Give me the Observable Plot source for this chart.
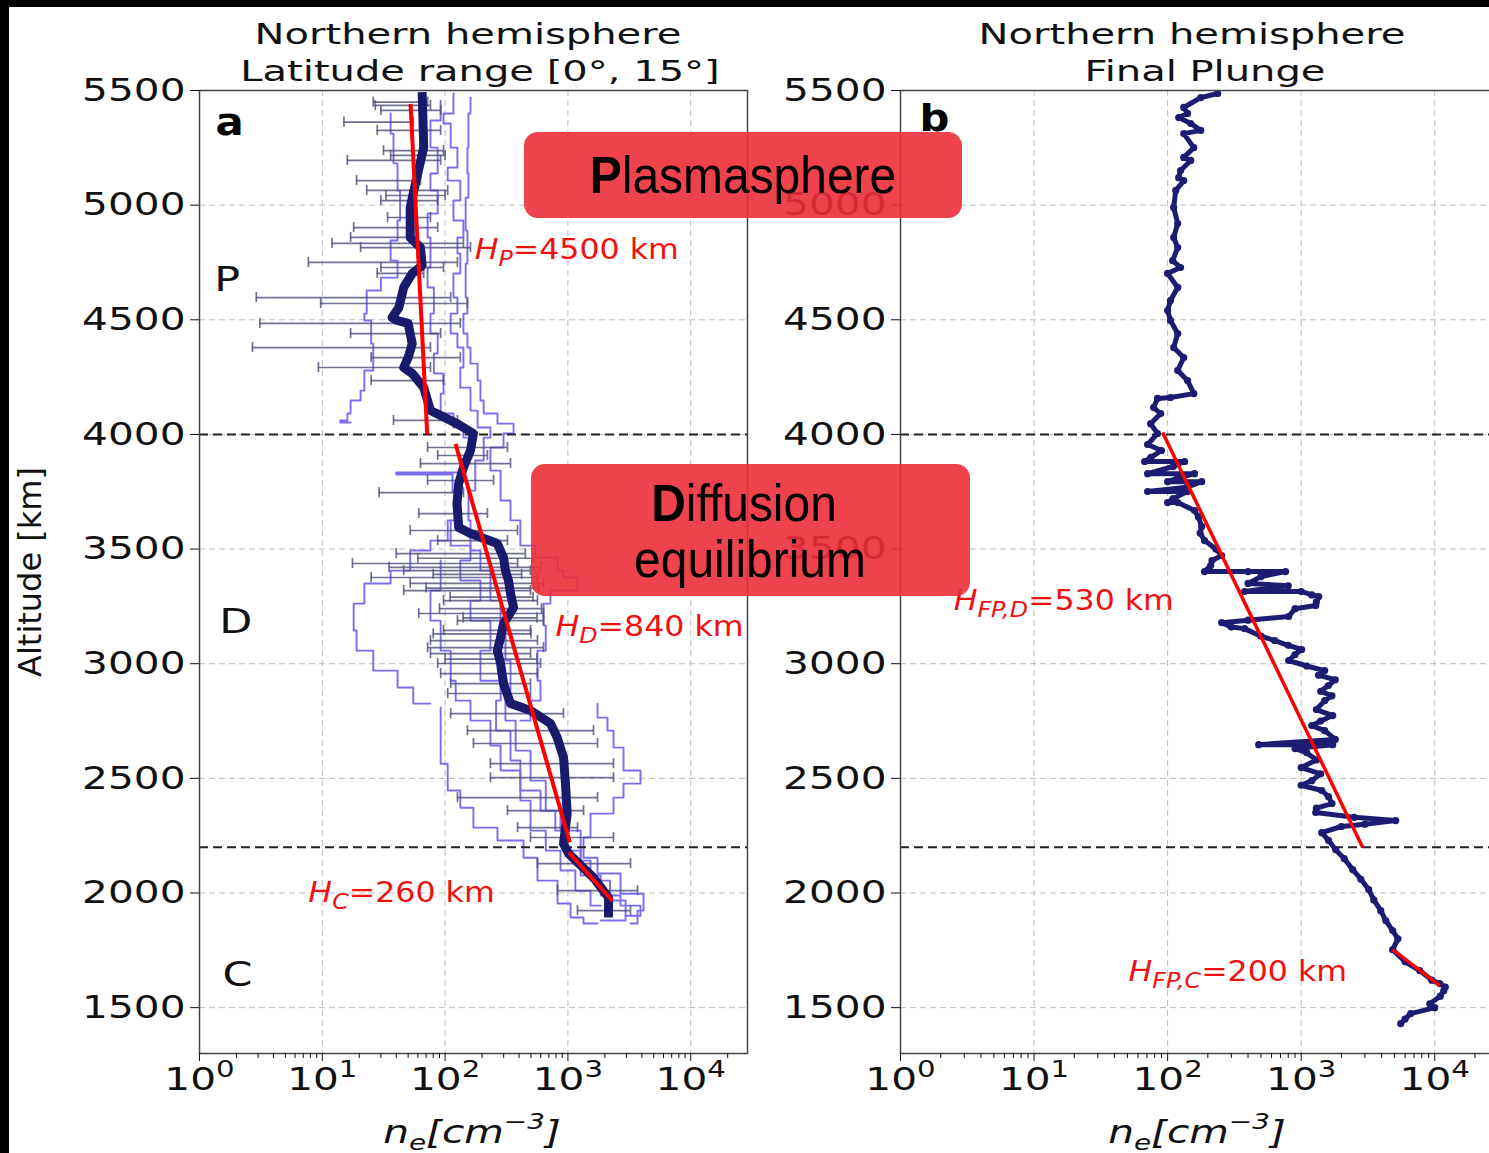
<!DOCTYPE html>
<html><head><meta charset="utf-8">
<script src="https://cdn.jsdelivr.net/npm/d3@7"></script>
<script src="https://cdn.jsdelivr.net/npm/@observablehq/plot@0.6"></script>
<style>
html,body{margin:0;padding:0;width:1489px;height:1153px;overflow:hidden;background:#000;}
#paper{position:absolute;left:9px;top:7px;right:0;bottom:0;background:#fff;}
.panel{position:absolute;top:0;height:1153px;}
#pa{left:0;width:760px;}
#pb{left:700px;width:800px;}
#overlay{position:absolute;left:0;top:0;pointer-events:none;}
</style></head><body>
<div id="paper"></div>
<div id="pa" class="panel"></div>
<div id="pb" class="panel"></div>
<svg id="overlay" width="1489" height="1153"></svg>
<script>
// ---------------- DATA (altitude km, n_e cm^-3) ----------------
const yTicks = [1500, 2000, 2500, 3000, 3500, 4000, 4500, 5000, 5500];
const decades = [1, 10, 100, 1000, 10000];
const boundaries = [4000, 2200];

// Panel a: individual profiles
const profile1 = [[5469,161],[5400,155],[5251,152],[5138,155],[5033,147],[4889,152],[4745,147],[4597,152],[4527,141],[4440,152],[4379,161],[4309,184],[4235,194],[4148,206],[4091,267],[4047,361],[4004,299],[3943,234],[3842,283],[3712,341],[3625,410],[3515,545],[3463,823],[3406,921],[3376,1197],[3319,721],[3262,633],[3167,660],[3057,565],[2926,598],[2839,496],[2752,410]];
const profile2 = [[5487,117],[5400,97],[5356,111],[5251,126],[5164,105],[5107,133],[5020,117],[4933,141],[4859,126],[4789,133],[4702,117],[4597,126],[4527,111],[4440,126],[4379,141],[4292,133],[4204,161],[4104,184],[4030,234],[3986,206],[3886,176],[3755,155],[3625,161],[3494,194],[3406,234],[3275,283],[3145,310],[3014,341],[2883,310],[2752,375],[2621,496],[2490,660],[2359,790],[2272,950],[2185,1270],[2076,1850],[1989,2680],[1945,3900],[1901,2950]];
const profile3 = [[5456,92],[5369,76],[5251,87],[5138,76],[5064,87],[4963,72],[4859,76],[4728,72],[4641,81],[4527,76],[4440,87],[4353,81],[4266,97],[4178,92],[4091,117],[4030,141],[3986,161],[3930,150],[3845,130],[3834,40],[3825,115],[3750,120],[3625,105],[3537,76],[3494,52],[3406,36],[3350,22],[3262,18],[3145,19],[3057,26],[2970,41],[2896,55],[2826,76]];
const profile4 = [[5400,36],[5312,38],[5182,41],[5064,43],[4933,41],[4846,36],[4758,41],[4684,30],[4628,23],[4527,22],[4497,25],[4396,26],[4279,22],[4191,20.5],[4148,17],[4091,16],[4061,14],[4052,17]];
const profile5 = [[2809,92],[2708,92],[2564,105],[2447,133],[2372,170],[2285,267],[2229,435],[2154,565],[2054,823],[1954,1050],[1893,1340],[1867,1742]];
const profile6 = [[2826,1742],[2765,2100],[2708,2351],[2634,2836],[2534,3900],[2477,2836],[2416,2351],[2346,1528],[2242,1340],[2154,1742],[2085,2681],[1997,4128],[1923,3689],[1867,3235]];
const profile7 = [[3625,111],[3515,161],[3450,133],[3363,194],[3275,161],[3188,234],[3057,194],[2926,283],[2839,260],[2708,341],[2578,410],[2447,598],[2359,870],[2272,1270],[2141,1528],[2054,2200],[1967,2950],[1880,1850]];
const profile8 = [[3450,92],[3319,76],[3188,92],[3057,111],[2926,122],[2839,161],[2752,234],[2643,283],[2534,410],[2403,496],[2272,660],[2185,870],[2098,1150],[2010,1528],[1945,1850]];

// Panel a: error bars [altitude, low, high]
const errorBars = [[5449,26,72],[5435,27,76],[5413,30,92],[5362,15,55],[5326,28,92],[5238,31.5,97],[5217,36,100],[5195,16,92],[5107,19,63],[5064,23,105],[5042,33,100],[5020,30,87],[4946,34,76],[4902,18,87],[4859,17,55],[4833,12,141],[4815,20.5,161],[4750,7.7,126],[4728,30,97],[4702,28,67],[4597,2.9,111],[4571,9.7,152],[4484,3.1,133],[4440,17,92],[4379,2.7,76],[4335,25,133],[4292,9.3,76],[4235,25,97],[4061,38,126],
[3943,72,322],[3908,87,221],[3873,63,341],[3799,72,248],[3746,29,141],[3655,61,221],[3581,52,389],[3537,87,322],[3480,40,450],[3460,60,520],[3437,17.6,389],[3420,35,600],[3406,46,496],[3390,80,420],[3376,25,565],[3350,52,633],[3330,70,580],[3319,46,496],[3290,110,520],[3275,97,565],[3240,90,610],[3219,61,633],[3200,140,560],[3188,126,633],[3145,97,496],[3130,80,500],[3101,76,565],[3070,72,633],[3044,76,496],[3020,100,560],[3001,87,598],[2957,92,565],[2913,111,496],[2870,105,496],[2782,111,921],[2708,152,1616],[2652,170,1742],[2564,234,2351],[2503,234,2351],[2416,126,1742],[2359,322,1340],[2285,389,1197],[2242,496,2351],[2128,565,3235],[2010,823,3689],[1923,1197,3235]];

// Panel a: mean profile
const meanProfile = [[5493,65],[5253,67],[5051,55],[4990,52],[4859,52],[4815,63],[4737,65],[4702,54],[4641,46],[4553,42],[4510,37],[4497,41],[4484,50],[4396,54],[4335,50],[4292,46],[4266,54],[4204,67],[4104,76],[4047,125],[4004,170],[3930,161],[3856,141],[3786,129],[3698,125],[3594,129],[3568,161],[3524,266],[3463,299],[3406,310],[3363,328],[3306,341],[3245,361],[3175,299],[3114,283],[3057,266],[3001,283],[2913,299],[2826,341],[2796,496],[2739,721],[2678,818],[2591,921],[2477,955],[2346,987],[2215,921],[2172,1011],[2067,1618],[1980,2142],[1893,2142]];

// Panel a: exponential fits
const fitP = [[5442,52.3],[4000,71.5]];
const fitD = [[3959,121.6],[2221,1036]];
const fitC = [[2177,1017],[1967,2296]];

// Panel b: final plunge samples
const finalPlunge = [[5487,237],[5469,177],[5426,132],[5400,141],[5382,121],[5356,149],[5326,177],[5312,132],[5251,157],[5208,132],[5195,149],[5151,125],[5120,121],[5107,132],[5064,115],[4990,111],[4920,119],[4859,111],[4815,119],[4758,109],[4728,125],[4702,100],[4641,119],[4584,105],[4540,100],[4497,105],[4440,119],[4379,111],[4335,132],[4279,119],[4235,141],[4178,157],[4161,105],[4157,84],[4117,78.5],[4091,88.7],[4047,74.6],[4004,84],
[3956,70.8],[3930,90],[3900,75],[3882,67.3],[3882,134],[3860,110],[3829,70.8],[3829,159],[3810,120],[3794,100],[3794,180],[3770,140],[3751,70.8],[3751,141],[3720,110],[3703,100],[3703,119],[3668,159],[3640,170],[3598,180],[3570,175],[3537,189],[3500,230],[3472,254],[3450,215],[3428,210],[3402,189],[3402,400],[3402,765],[3380,500],[3350,400],[3340,800],[3315,377],[3315,1000],[3300,1200],[3293,1353],[3270,1300],[3254,1285],[3240,900],[3206,806],[3190,400],[3179,254],[3160,300],[3153,377],[3120,500],[3101,633],[3080,800],[3062,1009],[3040,900],[3014,806],[2990,1100],[2970,1500],[2950,1350],[2930,1800],[2905,1600],[2880,1400],[2860,1700],[2839,1500],[2800,1300],[2774,1722],[2750,1400],[2730,1200],[2708,1500],[2670,1800],[2647,481],[2647,1722],[2630,900],[2612,1100],[2580,1300],[2547,1000],[2520,1400],[2490,1200],[2470,1000],[2447,1425],[2420,1600],[2390,1700],[2370,1300],[2351,1285],[2330,2500],[2316,5103],[2300,3000],[2290,2000],[2263,1425],[2230,1600],[2189,1812],[2150,2100],[2102,2430],[2060,2800],[2015,3206],[1970,3500],[1923,3942],[1880,4300],[1836,4842],[1800,5300],[1753,4842],[1700,6000],[1662,7720],[1620,9500],[1605,10900],[1590,12000],[1574,11680],[1550,11000],[1517,9180],[1500,10000],[1474,6607],[1450,6000],[1430,5560]];
const fitFPD = [[4008,91.8],[2198,2890]];
const fitFPC = [[1753,4842],[1596,10900]];

// Annotations: [ne, altitude, symbol, subscript, rest]
const annotA = [[174,4806,"H","P","=4500 km"],[793,3162,"H","D","=840 km"],[7.7,1998,"H","C","=260 km"]];
const annotB = [[2.5,3275,"H","FP,D","=530 km"],[51,1657,"H","FP,C","=200 km"]];
const regionLabels = [[1.32,4671,"P"],[1.45,3180,"D"],[1.54,1640,"C"]];

// ---------------- HELPERS ----------------
const X_DOMAIN = [1, 29000];
const Y_DOMAIN = [1300, 5500];
const minorX = [];
for (const d of decades) for (let m = 2; m <= 9; m++) if (d * m <= X_DOMAIN[1]) minorX.push(d * m);
const expFmt = d => "10^" + Math.round(Math.log10(d));
const rows = arr => arr.map(([alt, ne]) => ({alt, ne}));
const withId = list => list.flatMap((p, i) => p.map(([alt, ne]) => ({id: i, alt, ne})));
const annRows = arr => arr.map(([ne, alt, s, sub, rest]) => ({ne, alt, text: `${s}|${sub}|${rest}`}));

function commonBack() {
  return [
    Plot.gridX({ticks: decades, stroke: "#bcbcbc", strokeOpacity: 1, strokeWidth: 1, strokeDasharray: "6,4"}),
    Plot.gridY({ticks: yTicks, stroke: "#bcbcbc", strokeOpacity: 1, strokeWidth: 1, strokeDasharray: "6,4"})
  ];
}
function commonFront() {
  return [
    Plot.frame({stroke: "#444", strokeWidth: 1.5}),
    Plot.axisY({ticks: yTicks, tickSize: 9, tickPadding: 5, tickFormat: d => String(d), fontSize: 32, label: null}),
    Plot.axisX({ticks: decades, tickSize: 8, tickPadding: 6, tickFormat: expFmt, fontSize: 32, label: null}),
    Plot.axisX({ticks: minorX, tickSize: 5, tickFormat: () => "", label: null})
  ];
}
function stretch(el, sx) {
  const x = +el.getAttribute("x") || 0, y = +el.getAttribute("y") || 0;
  const t = el.getAttribute("transform") || "";
  el.setAttribute("transform", `${t} translate(${x},${y}) scale(${sx},1) translate(${-x},${-y})`);
}
function postProcess(svg) {
  d3.select(svg).selectAll("text").each(function() {
    const s = this.textContent;
    const t = d3.select(this);
    if (s.includes("|")) {
      const [main, sub, rest] = s.split("|");
      t.text(null);
      t.append("tspan").attr("font-style", "italic").text(main);
      t.append("tspan").attr("font-style", "italic").attr("font-size", 21).attr("dy", 7).text(sub);
      t.append("tspan").attr("dy", -7).text(rest);
      stretch(this, 1.13);
    } else if (s.startsWith("10^")) {
      const e = s.slice(3);
      t.text(null);
      t.append("tspan").text("10");
      t.append("tspan").attr("font-size", 23).attr("dy", -13).text(e);
      stretch(this, 1.27);
    } else if (s === "a" || s === "b") {
      stretch(this, 1.1);
    } else if (s === "P" || s === "D" || s === "C") {
      stretch(this, 1.3);
    } else if (s.length) {
      stretch(this, 1.27);
    }
  });
  return svg;
}
const plotStyle = {fontFamily: "DejaVu Sans", fontSize: "32px", background: "transparent", color: "#111", overflow: "visible"};

// ---------------- PANEL A ----------------
const profRows = withId([profile1, profile2, profile3, profile4, profile5, profile6, profile7, profile8]);
const bars = errorBars.map(([alt, lo, hi]) => ({alt, lo, hi}));
const fitRowsA = withId([fitP, fitD, fitC]);

const svgA = Plot.plot({
  width: 760, height: 1153, marginLeft: 199, marginRight: 13, marginTop: 90, marginBottom: 100,
  x: {type: "log", domain: X_DOMAIN},
  y: {domain: Y_DOMAIN},
  style: plotStyle,
  marks: [
    ...commonBack(),
    Plot.line(profRows, {x: "ne", y: "alt", z: "id", stroke: "#7b6cf0", strokeWidth: 1.9, curve: "step-before"}),
    Plot.ruleY(bars, {y: "alt", x1: "lo", x2: "hi", stroke: "#4d4d7c", strokeOpacity: 0.8, strokeWidth: 1.7}),
    Plot.ruleX(bars, {x: "lo", y1: d => d.alt - 22, y2: d => d.alt + 22, stroke: "#4d4d7c", strokeOpacity: 0.8, strokeWidth: 1.7}),
    Plot.ruleX(bars, {x: "hi", y1: d => d.alt - 22, y2: d => d.alt + 22, stroke: "#4d4d7c", strokeOpacity: 0.8, strokeWidth: 1.7}),
    Plot.ruleY(boundaries, {stroke: "#222", strokeWidth: 2, strokeDasharray: "9,5"}),
    Plot.line(rows(meanProfile), {x: "ne", y: "alt", stroke: "#1a1a6c", strokeWidth: 9, strokeLinecap: "butt", strokeLinejoin: "round"}),
    Plot.line(fitRowsA, {x: "ne", y: "alt", z: "id", stroke: "#ff0000", strokeWidth: 4, strokeLinecap: "butt"}),
    Plot.text(annRows(annotA), {x: "ne", y: "alt", text: "text", textAnchor: "start", fill: "#f01010", fontSize: 28}),
    Plot.text(regionLabels, {x: d => d[0], y: d => d[1], text: d => d[2], textAnchor: "start", fill: "#111", fontSize: 33}),
    Plot.text([[1.35, 5360, "a"]], {x: d => d[0], y: d => d[1], text: d => d[2], textAnchor: "start", fill: "#000", fontSize: 38, fontWeight: "bold"}),
    ...commonFront()
  ]
});
document.getElementById("pa").appendChild(postProcess(svgA));

// ---------------- PANEL B ----------------
const plungeRows = rows(finalPlunge);
const fitRowsB = withId([fitFPD, fitFPC]);
const svgB = Plot.plot({
  width: 800, height: 1153, marginLeft: 200, marginRight: 4, marginTop: 90, marginBottom: 100,
  x: {type: "log", domain: X_DOMAIN},
  y: {domain: Y_DOMAIN},
  style: plotStyle,
  marks: [
    ...commonBack(),
    Plot.ruleY(boundaries, {stroke: "#222", strokeWidth: 2, strokeDasharray: "9,5"}),
    Plot.line(plungeRows, {x: "ne", y: "alt", stroke: "#1c1c72", strokeWidth: 5, strokeLinejoin: "round"}),
    Plot.dot(plungeRows, {x: "ne", y: "alt", r: 3.6, fill: "#1c1c72", stroke: "none"}),
    Plot.line(fitRowsB, {x: "ne", y: "alt", z: "id", stroke: "#ff0000", strokeWidth: 3.5, strokeLinecap: "butt"}),
    Plot.text(annRows(annotB), {x: "ne", y: "alt", text: "text", textAnchor: "start", fill: "#f01010", fontSize: 28}),
    Plot.text([[1.39, 5378, "b"]], {x: d => d[0], y: d => d[1], text: d => d[2], textAnchor: "start", fill: "#000", fontSize: 38, fontWeight: "bold"}),
    ...commonFront()
  ]
});
document.getElementById("pb").appendChild(postProcess(svgB));

// ---------------- OVERLAY: titles, labels, highlight boxes ----------------
const ov = d3.select("#overlay");
function addText(parts, x, y, o = {}) {
  const t = ov.append("text")
    .attr("transform", o.rotate ? `translate(${x},${y}) rotate(${o.rotate})` : `translate(${x},${y}) scale(${o.sx || 1},1)`)
    .attr("text-anchor", o.anchor || "middle")
    .attr("font-family", o.family || "DejaVu Sans")
    .attr("font-size", o.size || 29)
    .attr("fill", o.fill || "#111");
  if (o.style) t.attr("font-style", o.style);
  if (typeof parts === "string") t.text(parts);
  else parts.forEach(p => {
    const s = t.append("tspan").text(p.t);
    if (p.size) s.attr("font-size", p.size);
    if (p.dy) s.attr("dy", p.dy);
    if (p.weight) s.attr("font-weight", p.weight);
  });
  return t;
}
// titles
addText("Northern hemisphere", 468, 44, {sx: 1.38});
addText("Latitude range [0°, 15°]", 480, 81, {sx: 1.38});
addText("Northern hemisphere", 1192, 44, {sx: 1.38});
addText("Final Plunge", 1205, 81, {sx: 1.38});
// axis labels
addText("Altitude [km]", 41, 572, {rotate: -90, size: 32});
const xlab = [{t: "n"}, {t: "e", size: 22, dy: 7}, {t: "[cm", dy: -7}, {t: "−3", size: 22, dy: -14}, {t: "]", dy: 14}];
addText(xlab, 472, 1143, {sx: 1.27, size: 32, style: "italic"});
addText(xlab, 1197, 1143, {sx: 1.27, size: 32, style: "italic"});
// highlight boxes
const boxFill = "rgba(236,47,56,0.9)";
ov.append("rect").attr("x", 524).attr("y", 132).attr("width", 438).attr("height", 86).attr("rx", 14).attr("fill", boxFill);
ov.append("rect").attr("x", 531).attr("y", 464).attr("width", 439).attr("height", 132).attr("rx", 14).attr("fill", boxFill);
const lib = {family: "Liberation Sans", size: 51, sx: 0.94, fill: "#000"};
addText([{t: "P", weight: "bold"}, {t: "lasmasphere"}], 743, 193, lib);
addText([{t: "D", weight: "bold"}, {t: "iffusion"}], 744, 521, lib);
addText("equilibrium", 750, 577, lib);
</script></body></html>
